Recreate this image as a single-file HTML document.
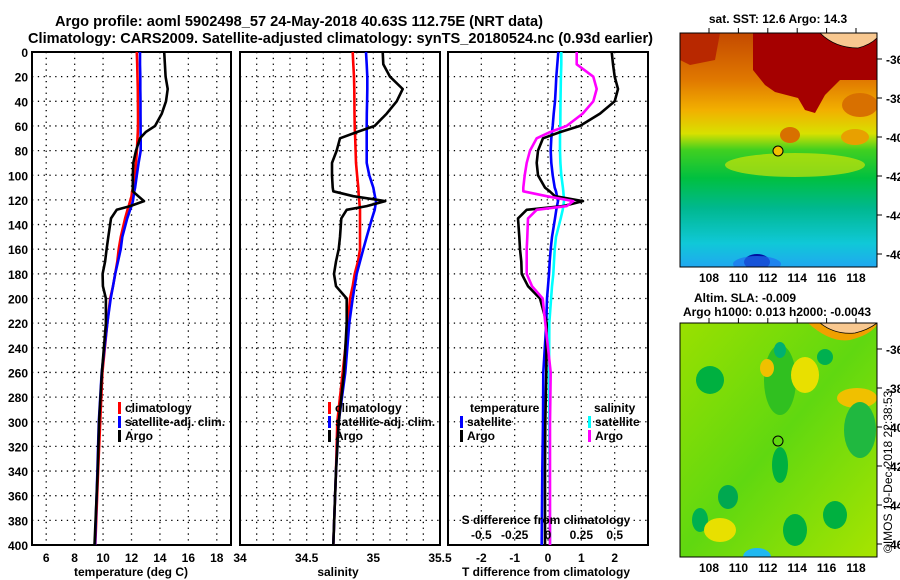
<!DOCTYPE html>
<html><head><meta charset="utf-8">
<style>
body{margin:0;background:#fff;}
svg{display:block;font-family:"Liberation Sans",Arial,sans-serif;font-weight:bold;}
text{fill:#000;}
</style></head>
<body>
<svg id="chart" width="900" height="580" viewBox="0 0 900 580" xmlns="http://www.w3.org/2000/svg">
<rect width="900" height="580" fill="#fff"/>
<text x="55" y="26" font-size="15" textLength="488" lengthAdjust="spacingAndGlyphs">Argo profile: aoml 5902498_57 24-May-2018 40.63S 112.75E (NRT data)</text>
<text x="28" y="43" font-size="15" textLength="625" lengthAdjust="spacingAndGlyphs">Climatology: CARS2009. Satellite-adjusted climatology: synTS_20180524.nc (0.93d earlier)</text>

<g>
<defs>
<clipPath id="c1"><rect x="680" y="33" width="197" height="234"/></clipPath>
<clipPath id="c2"><rect x="680" y="323" width="197" height="234"/></clipPath>
<linearGradient id="sstg" x1="0" y1="0" x2="0" y2="1">
<stop offset="0" stop-color="#c44a00"/><stop offset="0.2" stop-color="#e07800"/>
<stop offset="0.33" stop-color="#f2b000"/><stop offset="0.43" stop-color="#d8e000"/>
<stop offset="0.5" stop-color="#40d020"/><stop offset="0.62" stop-color="#00c040"/>
<stop offset="0.75" stop-color="#00b890"/><stop offset="0.9" stop-color="#10c8d8"/>
<stop offset="1" stop-color="#20a8f0"/></linearGradient>
<linearGradient id="slag" x1="0" y1="0" x2="1" y2="1">
<stop offset="0" stop-color="#9ae000"/><stop offset="0.5" stop-color="#60d810"/><stop offset="1" stop-color="#a8e400"/></linearGradient>
</defs>
<g clip-path="url(#c1)">
<rect x="680" y="33" width="197" height="234" fill="url(#sstg)"/>
<ellipse cx="795" cy="165" rx="70" ry="12" fill="#e8e800" opacity="0.6"/>
<ellipse cx="790" cy="135" rx="10" ry="8" fill="#d87000"/>
<ellipse cx="855" cy="137" rx="14" ry="8" fill="#e8a000"/>
<ellipse cx="860" cy="105" rx="18" ry="12" fill="#d87000"/>
<polygon points="753,33 877,33 877,80 840,80 825,95 815,113 805,110 798,98 775,92 765,85 753,70" fill="#a50000"/>
<polygon points="680,33 720,33 715,60 690,65 680,60" fill="#b82800"/>
<path d="M820,33 Q835,48 858,48 Q870,45 877,38 L877,33Z" fill="#f8c890" stroke="#000" stroke-width="0.8"/>
<ellipse cx="757" cy="262" rx="13" ry="8" fill="#0010a0"/>
<ellipse cx="757" cy="264" rx="24" ry="8" fill="#2070f0" opacity="0.7"/>
</g>
<rect x="680" y="33" width="197" height="234" fill="none" stroke="#000"/>
<circle cx="778" cy="151" r="5" fill="#f0c000" stroke="#000"/>
<text x="778" y="23" font-size="12" text-anchor="middle">sat. SST: 12.6 Argo: 14.3</text>
</g>

<g>
<g clip-path="url(#c2)">
<rect x="680" y="323" width="197" height="234" fill="url(#slag)"/>
<ellipse cx="710" cy="380" rx="14" ry="14" fill="#00b040"/>
<ellipse cx="780" cy="380" rx="16" ry="35" fill="#30c020"/>
<ellipse cx="780" cy="350" rx="6" ry="8" fill="#00b070"/>
<ellipse cx="767" cy="368" rx="7" ry="9" fill="#f0c000"/>
<ellipse cx="805" cy="375" rx="14" ry="18" fill="#e8e000"/>
<ellipse cx="825" cy="357" rx="8" ry="8" fill="#00b050"/>
<ellipse cx="857" cy="398" rx="20" ry="10" fill="#f0c000"/>
<ellipse cx="860" cy="430" rx="16" ry="28" fill="#20b840"/>
<ellipse cx="780" cy="465" rx="8" ry="18" fill="#00b040"/>
<ellipse cx="728" cy="497" rx="10" ry="12" fill="#00a850"/>
<ellipse cx="700" cy="520" rx="8" ry="12" fill="#00b050"/>
<ellipse cx="795" cy="530" rx="12" ry="16" fill="#00b040"/>
<ellipse cx="835" cy="515" rx="12" ry="14" fill="#00b040"/>
<ellipse cx="720" cy="530" rx="16" ry="12" fill="#e8e000"/>
<ellipse cx="757" cy="557" rx="14" ry="9" fill="#20b8f0"/>
<path d="M808,323 Q830,343 850,340 Q870,335 877,325 L877,323Z" fill="#f0a000"/>
<path d="M820,323 Q835,335 855,333 Q868,330 877,323Z" fill="#f8c890" stroke="#000" stroke-width="0.8"/>
</g>
<rect x="680" y="323" width="197" height="234" fill="none" stroke="#000"/>
<circle cx="778" cy="441" r="5" fill="none" stroke="#000"/>
<text x="745" y="302" font-size="12" text-anchor="middle">Altim. SLA: -0.009</text>
<text x="777" y="316" font-size="12" text-anchor="middle">Argo h1000: 0.013 h2000: -0.0043</text>
<text transform="translate(892,553) rotate(-90)" font-size="12" font-weight="normal">©IMOS 19-Dec-2018 22:38:53</text>
</g>
<g id="maps-axes"></g>
<g id="plots"></g>
</svg>
<script>
const depths = [0,10,20,30,40,50,60,65,70,80,90,100,110,113,117,121,125,128,135,150,160,170,180,190,200,220,260,300,340,400];
const tempClim = [12.37,12.4,12.42,12.44,12.45,12.46,12.46,12.44,12.42,12.38,12.32,12.25,12.1,12.05,12.0,11.9,11.8,11.72,11.55,11.25,11.1,11.0,10.85,10.7,10.5,10.3,9.95,9.8,9.65,9.45];
const tempSat = [12.6,12.6,12.62,12.62,12.63,12.63,12.64,12.64,12.65,12.65,12.5,12.37,12.25,12.2,12.15,12.1,12.0,11.9,11.7,11.35,11.24,11.05,10.85,10.7,10.54,10.3,9.9,9.7,9.6,9.43];
const tempArgo = [14.3,14.35,14.4,14.55,14.43,14.13,13.66,13.0,12.6,12.32,12.13,12.09,12.09,12.09,12.48,12.88,11.9,10.96,10.56,10.37,10.25,10.14,9.97,9.99,10.2,10.2,9.92,9.72,9.62,9.4];
const salClim = [34.845,34.85,34.855,34.857,34.858,34.859,34.86,34.862,34.864,34.867,34.87,34.878,34.887,34.889,34.891,34.895,34.898,34.9,34.9,34.9,34.9,34.885,34.86,34.845,34.825,34.81,34.77,34.73,34.72,34.7];
const salSat = [34.945,34.95,34.955,34.955,34.953,34.951,34.95,34.95,34.95,34.95,34.95,34.97,35.0,35.005,35.012,35.02,35.015,35.01,34.99,34.95,34.925,34.9,34.875,34.86,34.845,34.82,34.79,34.74,34.72,34.7];
const salArgo = [35.07,35.075,35.125,35.22,35.175,35.1,35.01,34.875,34.75,34.725,34.69,34.69,34.695,34.7,34.85,35.09,34.95,34.8,34.76,34.75,34.74,34.72,34.705,34.72,34.8,34.8,34.78,34.74,34.72,34.7];
const tDiffSat = [0.31,0.28,0.25,0.23,0.21,0.17,0.14,0.12,0.1,0.08,0.1,0.14,0.2,0.24,0.27,0.3,0.27,0.25,0.21,0.12,0.08,0.05,0.03,0.0,-0.03,-0.05,-0.14,-0.15,-0.17,-0.19];
const sDiffSat = [0.1,0.1,0.097,0.095,0.094,0.093,0.092,0.091,0.09,0.09,0.093,0.1,0.112,0.115,0.118,0.12,0.115,0.11,0.095,0.06,0.05,0.045,0.04,0.03,0.023,0.01,0.008,0.01,0.012,0.015];
const tDiffArgo = [1.91,1.95,2.0,2.1,2.0,1.56,0.96,0.36,-0.15,-0.3,-0.34,-0.3,-0.09,0.05,0.21,1.05,0.45,-0.64,-0.9,-0.86,-0.84,-0.8,-0.79,-0.6,-0.24,-0.04,-0.05,-0.08,-0.09,-0.09];
const sDiffArgo = [0.215,0.215,0.34,0.365,0.34,0.26,0.14,0.015,-0.085,-0.135,-0.16,-0.175,-0.185,-0.185,-0.01,0.19,0.14,-0.085,-0.15,-0.155,-0.16,-0.16,-0.16,-0.12,-0.04,-0.02,0.02,0.015,0.015,0.015];
const depthTicks = [0,20,40,60,80,100,120,140,160,180,200,220,240,260,280,300,320,340,360,380,400];
const tempTicks = [6,8,10,12,14,16,18];
const salTicks = [34,34.5,35,35.5];
const tDiffTicks = [-2,-1,0,1,2];
const sDiffTicks = [-0.5,-0.25,0,0.25,0.5];
const latTicks = [-36,-38,-40,-42,-44,-46];
const lonTicks = [108,110,112,114,116,118];

const yD = d => 52 + d * (493/400);
const xT = v => 32 + (v - 5) * (199/14);
const xS = v => 240 + (v - 34) * (200/1.5);
const xTd = v => 548 + v * (200/6);
const xSd = v => 548 + v * (200/1.5);
const yLat1 = l => 59 + (-36 - l) * 19.5;
const yLat2 = l => 349 + (-36 - l) * 19.5;
const xLon = l => 709 + (l - 108) * 14.7;

const NS = 'http://www.w3.org/2000/svg';
const plots = document.getElementById('plots');
function mk(tag, attrs, parent){const e=document.createElementNS(NS,tag);for(const k in attrs)e.setAttribute(k,attrs[k]);(parent||plots).appendChild(e);return e;}
function txt(x,y,s,size,anchor,parent){const t=mk('text',{x:x,y:y,'font-size':size,'text-anchor':anchor||'start'},parent);t.textContent=s;return t;}

function panel(name, x0, x1, xTicksV, xf){
  const g = mk('g',{});
  
  
  depthTicks.forEach(d=>{ if(d>0&&d<400) mk('line',{x1:x0,x2:x1,y1:yD(d),y2:yD(d),stroke:'#000','stroke-width':1.3,'stroke-dasharray':'1.3 4.5'},g); });
  xTicksV.forEach(v=>{ const x=xf(v); if(x>x0+1&&x<x1-1) mk('line',{x1:x,x2:x,y1:52,y2:545,stroke:'#000','stroke-width':1.3,'stroke-dasharray':'1.3 4.5'},g); });
  mk('rect',{x:x0,y:52,width:x1-x0,height:493,fill:'none',stroke:'#000','stroke-width':2},g);
  return g;
}
function series(g, xs, f, color, name){
  const pts = depths.map((d,i)=>f(xs[i]).toFixed(1)+','+yD(d).toFixed(1)).join(' ');
  const p = mk('polyline',{points:pts,fill:'none',stroke:color,'stroke-width':2.6,'stroke-linejoin':'round'},g);
  
  
}
function legend(g,x,y,color,label){
  mk('rect',{x:x,y:y-10,width:3,height:12,fill:color},g);
  txt(x+7,y,label,12,'start',g);
}

const g1 = panel('temperature-panel',32,231,[6,8,10,12,14,16,18],xT);
depthTicks.forEach(d=>txt(28,yD(d)+5,String(d),12,'end',g1));
tempTicks.forEach(v=>txt(xT(v),562,String(v),12,'middle',g1));
txt(131,576,'temperature (deg C)',12,'middle',g1);
series(g1,tempClim,xT,'#ff0000','temp-climatology-line');
series(g1,tempSat,xT,'#0000ff','temp-satellite-line');
series(g1,tempArgo,xT,'#000000','temp-argo-line');
legend(g1,118,412,'#ff0000','climatology');
legend(g1,118,426,'#0000ff','satellite-adj. clim.');
legend(g1,118,440,'#000000','Argo');

const g2 = panel('salinity-panel',240,440,[34.125,34.25,34.375,34.5,34.625,34.75,34.875,35,35.125,35.25,35.375],xS);
salTicks.forEach(v=>txt(xS(v),562,String(v),12,'middle',g2));
txt(338,576,'salinity',12,'middle',g2);
series(g2,salClim,xS,'#ff0000','sal-climatology-line');
series(g2,salSat,xS,'#0000ff','sal-satellite-line');
series(g2,salArgo,xS,'#000000','sal-argo-line');
legend(g2,328,412,'#ff0000','climatology');
legend(g2,328,426,'#0000ff','satellite-adj. clim.');
legend(g2,328,440,'#000000','Argo');

const g3 = panel('difference-panel',448,648,[-2,-1,0,1,2],xTd);
tDiffTicks.forEach(v=>txt(xTd(v),562,String(v),12,'middle',g3));
txt(546,576,'T difference from climatology',12,'middle',g3);
series(g3,tDiffSat,xTd,'#0000ff','tdiff-satellite-line');
series(g3,sDiffSat,xSd,'#00ffff','sdiff-satellite-line');
series(g3,tDiffArgo,xTd,'#000000','tdiff-argo-line');
series(g3,sDiffArgo,xSd,'#ff00ff','sdiff-argo-line');
txt(470,412,'temperature',12,'start',g3);
legend(g3,460,426,'#0000ff','satellite');
legend(g3,460,440,'#000000','Argo');
txt(594,412,'salinity',12,'start',g3);
legend(g3,588,426,'#00ffff','satellite');
legend(g3,588,440,'#ff00ff','Argo');
txt(546,524,'S difference from climatology',12,'middle',g3);
sDiffTicks.forEach(v=>txt(xSd(v),539,String(v),12,'middle',g3));

const ma = document.getElementById('maps-axes');
[[yLat1,33,267],[yLat2,323,557]].forEach(([yf,top,bot])=>{
  latTicks.forEach(l=>{const y=yf(l); mk('line',{x1:877,x2:882,y1:y,y2:y,stroke:'#000'},ma); txt(886,y+5,String(l),12,'start',ma);});
  lonTicks.forEach(l=>{const x=xLon(l); mk('line',{x1:x,x2:x,y1:top-5,y2:top,stroke:'#000'},ma); txt(x,bot+15,String(l),12,'middle',ma);});
});
</script>
</body></html>
